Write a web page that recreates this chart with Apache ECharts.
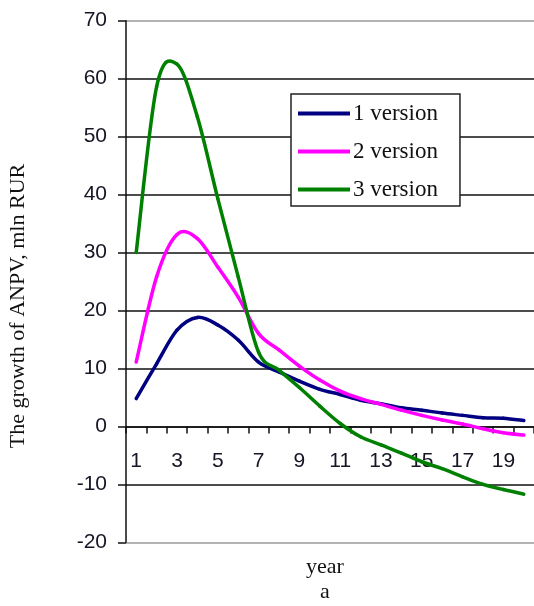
<!DOCTYPE html>
<html>
<head>
<meta charset="utf-8">
<script src="https://cdn.jsdelivr.net/npm/echarts@6/dist/echarts.min.js"></script>
<style>html,body{margin:0;padding:0;background:#fff;}#c{width:534px;height:606px;}</style>
</head>
<body>
<div id="c"></div>
<script>
var years = ['1','2','3','4','5','6','7','8','9','10','11','12','13','14','15','16','17','18','19','20'];
var version1 = [4.8, 10.8, 16.6, 18.8, 17.5, 14.9, 11.1, 9.4, 7.8, 6.4, 5.5, 4.5, 3.9, 3.2, 2.8, 2.3, 1.9, 1.5, 1.4, 1.0];
var version2 = [11.1, 25.8, 33.1, 32.4, 27.5, 22.3, 16.0, 13.2, 10.4, 8.0, 6.1, 4.8, 3.8, 2.8, 1.9, 1.1, 0.4, -0.4, -1.1, -1.5];
var version3 = [30.0, 58.6, 62.5, 53.4, 39.3, 25.8, 12.8, 9.7, 6.7, 3.5, 0.5, -1.8, -3.2, -4.6, -6.1, -7.3, -8.7, -10.0, -10.9, -11.7];
var seriesNames = ['1 version', '2 version', '3 version'];
var yTicks = {min: -20, max: 70, step: 10};

var gridTop = 20.7, gridH = 521.6;
var zeroOffset = -gridH * (0 - yTicks.min) / (yTicks.max - yTicks.min);

var chart = echarts.init(document.getElementById('c'), null, {renderer: 'canvas'});
var gridColors = ['#9a9a9a','#111','#111','#111','#111','#111','#111','#111','#111','#9a9a9a'];

// Smooth curve drawn segment by segment (Catmull-Rom style, like a spreadsheet smoothed line),
// positions obtained through the chart's own axes via api.coord.
function mk(name, values, color) {
  var data = values.map(function (v, i) { return [i, v]; });
  return {
    name: name, type: 'custom', data: data, encode: {x: 0, y: 1},
    itemStyle: {color: color}, z: 3,
    renderItem: function (params, api) {
      var i = params.dataIndex, n = values.length;
      if (i >= n - 1) return null;
      var p = function (k) { k = Math.max(0, Math.min(n - 1, k)); return api.coord([k, values[k]]); };
      var p0 = p(i - 1), p1 = p(i), p2 = p(i + 1), p3 = p(i + 2);
      var t = 1 / 6;
      return {
        type: 'bezierCurve',
        shape: {
          x1: p1[0], y1: p1[1], x2: p2[0], y2: p2[1],
          cpx1: p1[0] + (p2[0] - p0[0]) * t, cpy1: p1[1] + (p2[1] - p0[1]) * t,
          cpx2: p2[0] - (p3[0] - p1[0]) * t, cpy2: p2[1] - (p3[1] - p1[1]) * t
        },
        style: {stroke: color, lineWidth: 3.5, fill: null, lineCap: 'round'}
      };
    }
  };
}
chart.setOption({
  animation: false,
  backgroundColor: '#fff',
  grid: {left: 126, top: gridTop, width: 411.4, height: gridH, containLabel: false},
  legend: {
    orient: 'vertical', left: 291, top: 94,
    data: seriesNames,
    icon: 'rect',
    itemWidth: 52, itemHeight: 4, itemGap: 15,
    padding: [8, 22, 5, 7],
    backgroundColor: '#fff', borderColor: '#222', borderWidth: 1.5, borderRadius: 0,
    textStyle: {fontFamily: 'Liberation Serif', fontSize: 23, color: '#111', padding: [0,0,0,-2]}
  },
  xAxis: {
    type: 'category', data: years, boundaryGap: true,
    position: 'bottom', offset: zeroOffset,
    axisLine: {onZero: false, lineStyle: {color: '#111', width: 1.5}},
    axisTick: {show: true, interval: 0, length: 7, lineStyle: {color: '#111', width: 1.5}},
    axisLabel: {interval: 1, margin: 24, fontFamily: 'Liberation Sans', fontSize: 21, color: '#151525'},
    splitLine: {show: false}
  },
  yAxis: {
    type: 'value', min: yTicks.min, max: yTicks.max, interval: yTicks.step,
    axisLine: {show: true, onZero: false, lineStyle: {color: '#111', width: 1.5}},
    axisTick: {show: true, length: 8, lineStyle: {color: '#111', width: 1.5}},
    axisLabel: {margin: 19, fontFamily: 'Liberation Sans', fontSize: 21, color: '#151525'},
    splitLine: {show: true, lineStyle: {color: gridColors, width: 1.5}}
  },
  graphic: [
    {type: 'text', x: 18, y: 306, rotation: Math.PI/2,
     style: {text: 'The growth of ANPV, mln RUR', fontFamily: 'Liberation Serif', fontSize: 22, fill: '#111', textAlign: 'center', textVerticalAlign: 'middle'}},
    {type: 'text', x: 325, y: 567,
     style: {text: 'year', fontFamily: 'Liberation Serif', fontSize: 22, fill: '#111', textAlign: 'center', textVerticalAlign: 'middle'}},
    {type: 'text', x: 325, y: 592,
     style: {text: 'a', fontFamily: 'Liberation Serif', fontSize: 22, fill: '#111', textAlign: 'center', textVerticalAlign: 'middle'}}
  ],
  series: [
    mk(seriesNames[0], version1, '#000080'),
    mk(seriesNames[1], version2, '#ff00ff'),
    mk(seriesNames[2], version3, '#008000')
  ]
});
</script>
</body>
</html>
